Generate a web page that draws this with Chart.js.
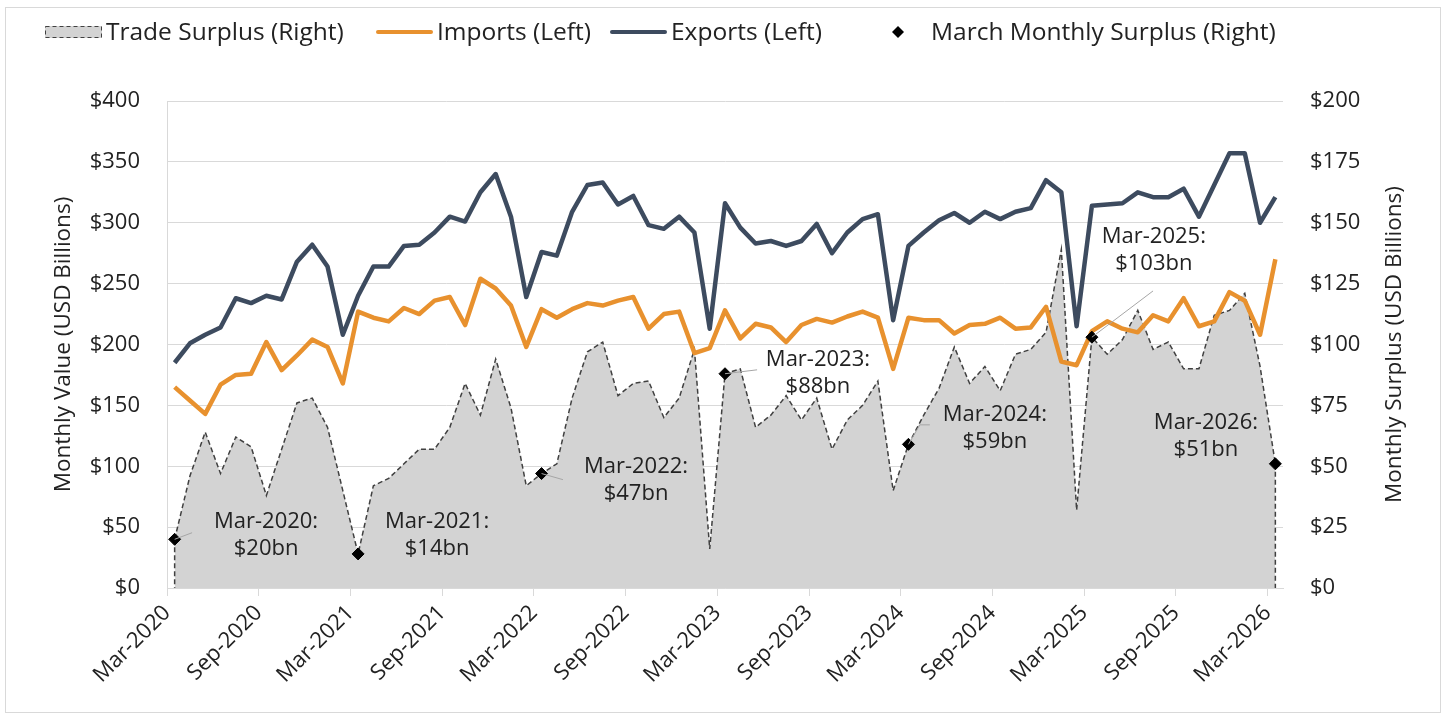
<!DOCTYPE html>
<html>
<head>
<meta charset="utf-8">
<script src="https://cdn.jsdelivr.net/npm/chart.js@4.4.1/dist/chart.umd.min.js"></script>
<style>
  html, body { margin: 0; padding: 0; background: #fff; }
  body { width: 1445px; height: 717px; position: relative; overflow: hidden; }
  .frame { position: absolute; left: 5px; top: 7px; width: 1434px; height: 704px; border: 1px solid #d9d9d9; }
  canvas { position: absolute; left: 0; top: 0; }
</style>
</head>
<body>
<div class="frame"></div>
<canvas id="tradeChart" width="1445" height="717"></canvas>
<script>
// ============================================
//  DATA  (USD billions, monthly Mar-2020 .. Mar-2026)
// ============================================
const tickLabels = ['Mar-2020', 'Sep-2020', 'Mar-2021', 'Sep-2021', 'Mar-2022', 'Sep-2022', 'Mar-2023',
  'Sep-2023', 'Mar-2024', 'Sep-2024', 'Mar-2025', 'Sep-2025', 'Mar-2026'];

const exportsVals = [
  185, 201, 208, 214, 238, 234, 240, 237, 268, 282, 264, 208,
  240, 264, 264, 281, 282, 292, 305, 301, 325, 340, 305, 239,
  276, 273, 309, 331, 333, 315, 322, 298, 295, 305, 292, 213,
  316, 296, 283, 285, 281, 285, 299, 275, 292, 303, 307, 220,
  281, 292, 302, 308, 300, 309, 303, 309, 312, 335, 325, 215,
  314, 315, 316, 325, 321, 321, 328, 305, 331, 357, 357, 300,
  321
];

const importsVals = [
  165, 154, 143, 167, 175, 176, 202, 179, 191, 204, 198, 168,
  227, 222, 219, 230, 225, 236, 239, 216, 254, 246, 232, 198,
  229, 222, 229, 234, 232, 236, 239, 213, 225, 227, 193, 197,
  228, 205, 217, 214, 202, 216, 221, 218, 223, 227, 222, 180,
  222, 220, 220, 209, 216, 217, 222, 213, 214, 231, 186, 183,
  211, 219, 213, 210, 224, 219, 238, 215, 219, 243, 236, 208,
  270
];

const surplusVals = [
  20, 46, 64, 47, 62, 58, 38, 57, 76, 78, 66, 40,
  14, 42, 45, 51, 57, 57, 66, 84, 71, 94, 74, 42,
  47, 51, 78, 97, 101, 79, 84, 85, 70, 78, 98, 16,
  88, 90, 66, 71, 79, 69, 78, 57, 69, 75, 85, 40,
  59, 71, 82, 99, 84, 91, 81, 96, 98, 105, 139, 32,
  103, 96, 102, 114, 98, 101, 90, 90, 112, 114, 121, 91,
  51
];

// March points (month index) and their surplus
const marchIdx = [0, 12, 24, 36, 48, 60, 72];
const marchSurplus = [20, 14, 47, 88, 59, 103, 51];

// label placement for the March callouts (month index / right-axis value)
const noteX = [5.98, 17.17, 30.18, 42.08, 53.65, 64.05, 67.46];
const noteY = [21.7, 21.5, 44.1, 88.2, 65.6, 138.9, 62.3];
const noteLeaders = [
  [[1.14, 22.7]], null, [[25.4, 44.5]], [[38.1, 89.6]],
  [[48.75, 67], [49.4, 67]], [[64.0, 122]], null
];

const legendX = [45, 376, 610, 870];

const TEXT = '#222222';
const GRID = '#d9d9d9';
const FONT = "'Open Sans', sans-serif";

Chart.defaults.font.family = FONT;
Chart.defaults.font.size = 22;
Chart.defaults.color = TEXT;

const xy = (vals) => vals.map((v, i) => ({ x: i, y: v }));

// ============================================
//  PLUGINS
// ============================================

// vertical dashed edges of the area (like Excel's area border)
const areaEdges = {
  id: 'areaEdges',
  afterDatasetDraw(chart, args) {
    if (args.index !== 0) return;
    const pts = chart.getDatasetMeta(0).data;
    const y0 = chart.scales.y2.getPixelForValue(0);
    const ctx = chart.ctx;
    ctx.save();
    ctx.strokeStyle = '#404040';
    ctx.lineWidth = 1.5;
    ctx.setLineDash([5, 3]);
    [pts[0], pts[pts.length - 1]].forEach(p => {
      ctx.beginPath();
      ctx.moveTo(p.x, p.y);
      ctx.lineTo(p.x, y0);
      ctx.stroke();
    });
    ctx.restore();
  }
};

// March callouts with leader lines
const callouts = {
  id: 'callouts',
  afterDatasetsDraw(chart) {
    const ctx = chart.ctx;
    const sx = chart.scales.x, sy = chart.scales.y2;
    ctx.save();
    marchIdx.forEach((mi, k) => {
      const lead = noteLeaders[k];
      if (lead) {
        ctx.strokeStyle = '#a6a6a6';
        ctx.lineWidth = 1;
        ctx.beginPath();
        ctx.moveTo(sx.getPixelForValue(mi), sy.getPixelForValue(marchSurplus[k]));
        lead.forEach(p => ctx.lineTo(sx.getPixelForValue(p[0]), sy.getPixelForValue(p[1])));
        ctx.stroke();
      }
      const cx = sx.getPixelForValue(noteX[k]);
      const cy = sy.getPixelForValue(noteY[k]);
      ctx.fillStyle = TEXT;
      ctx.font = '22px ' + FONT;
      ctx.textAlign = 'center';
      ctx.textBaseline = 'middle';
      ctx.fillText(tickLabels[k * 2] + ':', cx, cy - 13.5);
      ctx.fillText('$' + marchSurplus[k] + 'bn', cx, cy + 13.5);
    });
    ctx.restore();
  }
};

// right axis title (reads bottom to top, like the left one)
const rightTitle = {
  id: 'rightTitle',
  afterDraw(chart) {
    const ctx = chart.ctx;
    const a = chart.chartArea;
    ctx.save();
    ctx.translate(1395, (a.top + a.bottom) / 2);
    ctx.rotate(-Math.PI / 2);
    ctx.fillStyle = TEXT;
    ctx.font = '22.5px ' + FONT;
    ctx.textAlign = 'center';
    ctx.textBaseline = 'middle';
    ctx.fillText('Monthly Surplus (USD Billions)', 0, 0);
    ctx.restore();
  }
};

// Excel style legend row
const topLegend = {
  id: 'topLegend',
  afterDraw(chart) {
    const ctx = chart.ctx;
    const y = 32;
    ctx.save();
    chart.data.datasets.forEach((ds, k) => {
      const x = legendX[k];
      if (ds.fill) {
        ctx.fillStyle = ds.backgroundColor;
        ctx.fillRect(x, y - 6, 57, 12);
        ctx.strokeStyle = ds.borderColor;
        ctx.lineWidth = 1;
        ctx.setLineDash([4, 3]);
        ctx.strokeRect(x + 0.5, y - 5.5, 56, 11);
        ctx.setLineDash([]);
      } else if (ds.showLine === false) {
        const cx = x + 28;
        ctx.fillStyle = '#000';
        ctx.beginPath();
        ctx.moveTo(cx, y - 6);
        ctx.lineTo(cx + 6, y);
        ctx.lineTo(cx, y + 6);
        ctx.lineTo(cx - 6, y);
        ctx.closePath();
        ctx.fill();
      } else {
        ctx.strokeStyle = ds.borderColor;
        ctx.lineWidth = 4;
        ctx.lineCap = 'round';
        ctx.beginPath();
        ctx.moveTo(x + 2, y);
        ctx.lineTo(x + 55, y);
        ctx.stroke();
      }
      ctx.fillStyle = TEXT;
      ctx.font = '24.5px ' + FONT;
      ctx.textAlign = 'left';
      ctx.textBaseline = 'middle';
      ctx.fillText(ds.label, x + 61, y + 1);
    });
    ctx.restore();
  }
};

// ============================================
//  CHART
// ============================================
const ctx = document.getElementById('tradeChart').getContext('2d');

new Chart(ctx, {
  type: 'line',
  data: {
    datasets: [
      {
        label: 'Trade Surplus (Right)',
        data: xy(surplusVals),
        yAxisID: 'y2',
        fill: 'origin',
        backgroundColor: '#d3d3d3',
        borderColor: '#404040',
        borderWidth: 1.5,
        borderDash: [5, 3],
        pointRadius: 0,
        tension: 0,
        order: 4
      },
      {
        label: 'Imports (Left)',
        data: xy(importsVals),
        yAxisID: 'y',
        borderColor: '#e8912e',
        backgroundColor: '#e8912e',
        borderWidth: 4.5,
        borderJoinStyle: 'round',
        pointRadius: 0,
        tension: 0,
        order: 2
      },
      {
        label: 'Exports (Left)',
        data: xy(exportsVals),
        yAxisID: 'y',
        borderColor: '#3d4b5f',
        backgroundColor: '#3d4b5f',
        borderWidth: 4.5,
        borderJoinStyle: 'round',
        pointRadius: 0,
        tension: 0,
        order: 1
      },
      {
        label: 'March Monthly Surplus (Right)',
        data: marchIdx.map((x, k) => ({ x, y: marchSurplus[k] })),
        yAxisID: 'y2',
        showLine: false,
        pointStyle: 'rectRot',
        pointRadius: 6,
        pointBackgroundColor: '#000',
        pointBorderColor: '#000',
        order: 0
      }
    ]
  },
  options: {
    responsive: false,
    animation: false,
    devicePixelRatio: 1,
    layout: { padding: { top: 101, left: 0, right: 0, bottom: 0 } },
    plugins: {
      legend: { display: false },
      tooltip: { enabled: false }
    },
    scales: {
      x: {
        type: 'linear',
        min: -0.5,
        max: 72.5,
        afterBuildTicks: (scale) => {
          scale.ticks = tickLabels.map((_, k) => ({ value: -0.5 + 6 * k }));
        },
        afterFit: (scale) => { scale.height = 129; },
        ticks: {
          autoSkip: false,
          maxRotation: 45,
          minRotation: 45,
          padding: 4,
          callback: (val, i) => tickLabels[i]
        },
        grid: { drawOnChartArea: false, drawTicks: true, tickLength: 8, tickColor: GRID, color: GRID },
        border: { color: GRID }
      },
      y: {
        position: 'left',
        min: 0,
        max: 400,
        afterFit: (scale) => { scale.width = 167; },
        ticks: { stepSize: 50, padding: 27, callback: (v) => '$' + v },
        grid: { color: GRID, drawTicks: false },
        border: { color: GRID },
        title: {
          display: true,
          text: 'Monthly Value (USD Billions)',
          font: { size: 22.5 },
          padding: { top: 50, bottom: 0 }
        }
      },
      y2: {
        position: 'right',
        min: 0,
        max: 200,
        afterFit: (scale) => { scale.width = 162; },
        ticks: { stepSize: 25, padding: 27, callback: (v) => '$' + v },
        grid: { drawOnChartArea: false, drawTicks: false },
        border: { display: false }
      }
    }
  },
  plugins: [areaEdges, callouts, rightTitle, topLegend]
});
</script>
</body>
</html>
